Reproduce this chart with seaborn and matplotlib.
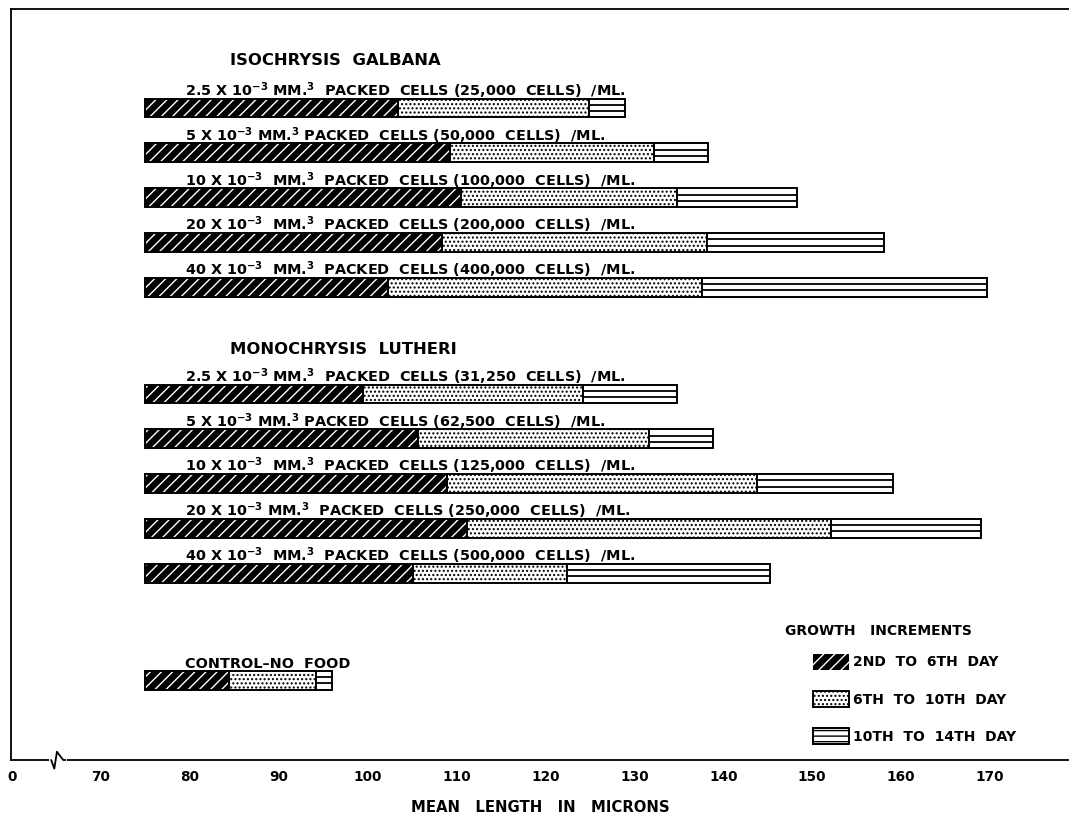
import matplotlib
matplotlib.use("Agg")
import matplotlib.pyplot as plt
import matplotlib.transforms as mtransforms
from matplotlib.patches import Patch
import numpy as np
import pandas as pd
import seaborn as sns

# lengths (microns) reached at day 6, 10 and 14; every larva starts at 75
START_LENGTH = 75.0

iso_labels = [
    r"2.5 X 10$^{-3}$ MM.$^{3}$  PACKED  CELLS (25,000  CELLS)  /ML.",
    r"5 X 10$^{-3}$ MM.$^{3}$ PACKED  CELLS (50,000  CELLS)  /ML.",
    r"10 X 10$^{-3}$  MM.$^{3}$  PACKED  CELLS (100,000  CELLS)  /ML.",
    r"20 X 10$^{-3}$  MM.$^{3}$  PACKED  CELLS (200,000  CELLS)  /ML.",
    r"40 X 10$^{-3}$  MM.$^{3}$  PACKED  CELLS (400,000  CELLS)  /ML.",
]
iso_day6 = [103.4, 109.3, 110.5, 108.4, 102.3]
iso_day10 = [124.9, 132.2, 134.8, 138.2, 137.6]
iso_day14 = [129.0, 138.3, 148.3, 158.1, 169.7]

mono_labels = [
    r"2.5 X 10$^{-3}$ MM.$^{3}$  PACKED  CELLS (31,250  CELLS)  /ML.",
    r"5 X 10$^{-3}$ MM.$^{3}$ PACKED  CELLS (62,500  CELLS)  /ML.",
    r"10 X 10$^{-3}$  MM.$^{3}$  PACKED  CELLS (125,000  CELLS)  /ML.",
    r"20 X 10$^{-3}$ MM.$^{3}$  PACKED  CELLS (250,000  CELLS)  /ML.",
    r"40 X 10$^{-3}$  MM.$^{3}$  PACKED  CELLS (500,000  CELLS)  /ML.",
]
mono_day6 = [99.5, 105.7, 108.9, 111.2, 105.1]
mono_day10 = [124.2, 131.6, 143.8, 152.1, 122.4]
mono_day14 = [134.8, 138.8, 159.1, 169.0, 145.3]

control_labels = ["CONTROL\u2013NO  FOOD"]
control_day6 = [84.4]
control_day10 = [94.2]
control_day14 = [96.0]

group_titles = ["ISOCHRYSIS  GALBANA", "MONOCHRYSIS  LUTHERI"]
legend_title = "GROWTH   INCREMENTS"
legend_labels = ["2ND  TO  6TH  DAY", "6TH  TO  10TH  DAY", "10TH  TO  14TH  DAY"]
tick_values = [60, 70, 80, 90, 100, 110, 120, 130, 140, 150, 160, 170]
tick_labels = ["0", "70", "80", "90", "100", "110", "120", "130", "140", "150", "160", "170"]

sns.set_style("white")
plt.rcParams["font.family"] = ["DejaVu Sans"]
plt.rcParams["font.weight"] = "bold"
plt.rcParams["text.color"] = "black"
plt.rcParams["xtick.color"] = "black"
plt.rcParams["axes.labelcolor"] = "black"
plt.rcParams["mathtext.fontset"] = "dejavusans"
plt.rcParams["mathtext.default"] = "bf"
plt.rcParams["hatch.linewidth"] = 1.0

# row layout (one unit = spacing between bars of a group)
iso_y = np.arange(5, dtype=float)
mono_y = 6.38 + np.arange(5)
control_y = np.array([12.77])

df = pd.DataFrame({
    "y": np.concatenate([iso_y, mono_y, control_y]),
    "label": iso_labels + mono_labels + control_labels,
    "d6": iso_day6 + mono_day6 + control_day6,
    "d10": iso_day10 + mono_day10 + control_day10,
    "d14": iso_day14 + mono_day14 + control_day14,
}).sort_values("y").reset_index(drop=True)
df["start"] = START_LENGTH
df["inc1"] = df["d6"] - df["start"]
df["inc2"] = df["d10"] - df["d6"]
df["inc3"] = df["d14"] - df["d10"]

fig = plt.figure(figsize=(10.69, 8.19), dpi=100)
ax = fig.add_axes([11 / 1069, 1 - 760 / 819, 1 - 11 / 1069, (760 - 9) / 819])

bar_h = 0.42
seg_styles = [
    ("inc1", "start", "black", dict(edgecolor="white", hatch="///", linewidth=0)),
    ("inc2", "d6", "white", dict(edgecolor="black", hatch="....", linewidth=1.4)),
    ("inc3", "d10", "white", dict(edgecolor="black", linewidth=1.4)),
]
for width_col, left_col, face, style in seg_styles:
    sns.barplot(data=df, x=width_col, y="y", orient="h", native_scale=True,
                width=bar_h, errorbar=None, color=face, saturation=1,
                left=df[left_col].values, ax=ax, **style)

# outline of the early segment
sns.barplot(data=df, x="inc1", y="y", orient="h", native_scale=True,
            width=bar_h, errorbar=None, left=df["start"].values, ax=ax,
            fill=False, color="black", saturation=1, linewidth=1.4)

# the ruled third segment: two lines splitting the bar into three strips
for off in (-bar_h / 6, bar_h / 6):
    ax.hlines(df["y"] + off, df["d10"], df["d14"], color="black", lw=1.3)

fs = 10.4
for _, row in df.iterrows():
    ax.text(79.5, row["y"] - 0.27, row["label"], fontsize=fs, fontweight="bold",
            ha="left", va="baseline")

ax.text(84.5, -1.07, group_titles[0], fontsize=11.8, fontweight="bold", va="center")
ax.text(84.5, 5.38, group_titles[1], fontsize=11.8, fontweight="bold", va="center")

ax.set_xlim(59.88, 178.9)
ax.set_ylim(14.55, -2.21)
ax.set_yticks([])
ax.set_ylabel("")
ax.set_xticks(tick_values)
ax.set_xticklabels(tick_labels, fontsize=9.8, fontweight="bold")
ax.tick_params(axis="x", direction="in", length=5, width=1.2, pad=7, color="black")
ax.set_xlabel("MEAN   LENGTH   IN   MICRONS", fontsize=10.7, fontweight="bold",
              labelpad=12)

for side in ["left", "top", "bottom"]:
    ax.spines[side].set_visible(True)
    ax.spines[side].set_color("black")
    ax.spines[side].set_linewidth(1.3)
ax.spines["right"].set_visible(False)

# axis break between 0 and 70
trans = mtransforms.blended_transform_factory(ax.transData, ax.transAxes)
ax.plot([64.4, 66.0], [0, 0], color="white", lw=3, transform=trans, clip_on=False, zorder=5)
ax.plot([64.4, 64.75, 65.05, 65.75, 66.0], [0, -0.0115, 0.011, 0, 0],
        color="black", lw=1.3, transform=trans, clip_on=False, zorder=6)

# legend
ax.text(147.0, 11.67, legend_title, fontsize=10, fontweight="bold", va="center")
handles = [
    Patch(facecolor="black", edgecolor="white", hatch="///", linewidth=0),
    Patch(facecolor="white", edgecolor="black", hatch="....", linewidth=1.4),
    Patch(facecolor="white", edgecolor="black", hatch="---", linewidth=1.4),
]
leg = ax.legend(handles, legend_labels, loc="upper left",
                bbox_to_anchor=(813 / 1069, 1 - 654 / 819), bbox_transform=fig.transFigure,
                frameon=False, borderpad=0, borderaxespad=0, handlelength=2.6,
                handleheight=1.35, handletextpad=0.3, labelspacing=1.55,
                prop={"size": 10, "weight": "bold"})

fig.savefig("out.png", dpi=100)
